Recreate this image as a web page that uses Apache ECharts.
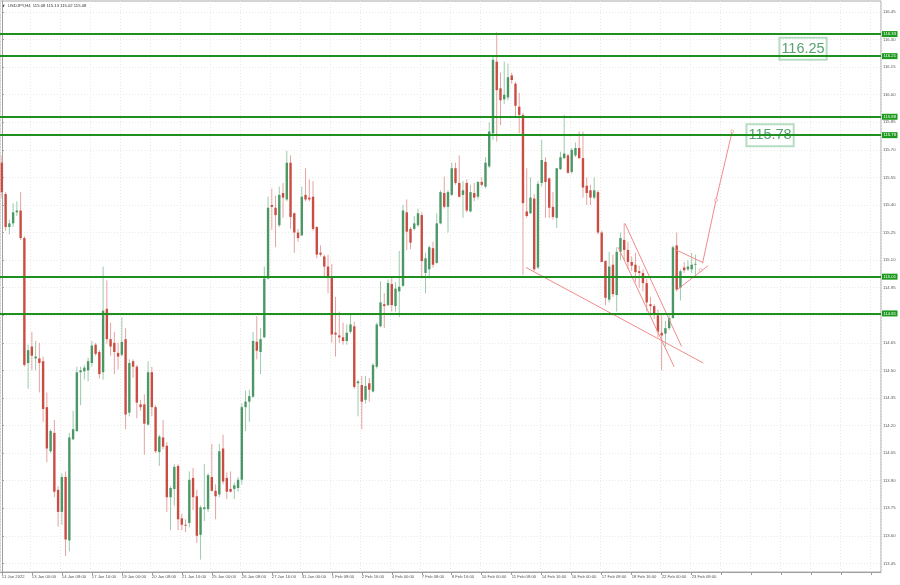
<!DOCTYPE html>
<html><head><meta charset="utf-8">
<script src="https://cdn.jsdelivr.net/npm/echarts@6.0.0/dist/echarts.min.js"></script>
<style>html,body{margin:0;padding:0;background:#fff}#c{width:900px;height:585px}</style>
</head><body><div id="c"></div>
<script>
// ---- data (USDJPY H4, 11 Jan 16:00 → 23 Feb 12:00) ----
const symbolName = 'USDJPY';
const timeframe = 'H4';
const open = [115.63,115.46,115.28,115.30,115.36,115.37,115.22,114.54,114.63,114.565,114.565,114.55,114.30,114.06,114.16,113.85,113.73,113.92,113.575,114.125,114.17,114.49,114.495,114.50,114.54,114.64,114.60,114.49,114.835,114.67,114.65,114.595,114.585,114.67,114.27,114.55,114.52,114.315,114.315,114.205,114.49,114.30,114.055,114.135,114.09,113.81,113.855,113.98,113.695,113.66,113.67,113.915,113.815,113.605,113.745,113.745,113.92,113.845,113.825,114.075,113.915,113.855,113.855,113.86,113.905,114.30,114.33,114.357,114.656,114.60,114.68,115.00,115.40,115.385,115.29,115.465,115.43,115.63,115.355,115.25,115.235,115.455,115.44,115.445,115.28,115.14,115.12,115.065,115.01,114.705,114.69,114.68,114.66,114.71,114.74,114.43,114.42,114.34,114.43,114.385,114.52,114.74,114.86,114.855,114.97,114.85,114.93,114.96,115.36,115.27,115.27,115.29,115.345,115.03,115.05,115.165,115.085,115.30,115.465,115.39,115.455,115.60,115.52,115.455,115.52,115.365,115.465,115.445,115.525,115.50,115.61,115.79,116.18,116.035,115.975,115.985,116.105,116.06,115.935,115.89,115.365,115.355,115.435,115.06,115.52,115.635,115.545,115.39,115.33,115.595,115.655,115.67,115.58,115.67,115.71,115.655,115.505,115.48,115.44,115.47,115.25,115.095,114.885,115.075,114.91,115.145,115.21,115.155,115.09,115.075,115.04,115.03,114.975,114.86,114.85,114.80,114.705,114.70,114.73,114.785,115.18,114.95,115.06,115.05,115.05,115.08];
const high = [115.67,115.47,115.32,115.41,115.42,115.47,115.23,114.64,114.71,114.66,114.65,114.575,114.38,114.18,114.23,113.87,113.94,113.95,114.16,114.28,114.52,114.52,114.53,114.57,114.66,114.65,114.61,115.065,114.99,114.76,114.71,114.65,114.79,114.73,114.56,114.56,114.53,114.34,114.37,114.55,114.52,114.31,114.15,114.23,114.11,113.87,113.99,113.99,113.72,113.69,113.95,113.97,113.85,113.765,113.99,113.94,114.10,113.88,114.10,114.15,113.945,113.95,113.89,113.92,114.32,114.39,114.395,114.71,114.795,114.73,115.065,115.445,115.49,115.45,115.50,115.52,115.695,115.67,115.36,115.27,115.50,115.60,115.54,115.53,115.285,115.18,115.13,115.13,115.08,114.90,114.82,114.76,114.75,114.81,114.765,114.45,114.47,114.47,114.46,114.54,114.76,114.985,114.92,114.995,115.01,114.98,115.15,115.40,115.43,115.28,115.34,115.38,115.36,115.14,115.18,115.20,115.355,115.48,115.555,115.48,115.63,115.63,115.67,115.53,115.54,115.51,115.52,115.53,115.55,115.66,115.85,116.205,116.34,116.12,116.18,116.17,116.12,116.07,116.01,115.90,115.60,115.55,115.46,115.53,115.755,115.66,115.55,115.47,115.60,115.69,115.89,115.68,115.71,115.74,115.80,115.80,115.55,115.51,115.55,115.48,115.26,115.10,115.145,115.13,115.17,115.25,115.30,115.20,115.12,115.14,115.07,115.05,115.00,114.90,114.86,114.83,114.80,114.77,114.80,115.18,115.25,115.05,115.09,115.10,115.14,115.13];
const low = [115.44,115.26,115.24,115.28,115.34,115.21,114.52,114.40,114.50,114.50,114.38,114.22,114.00,114.05,113.81,113.65,113.66,113.49,113.515,114.12,114.165,114.31,114.45,114.44,114.52,114.58,114.455,114.45,114.645,114.58,114.48,114.505,114.575,114.18,114.25,114.46,114.24,114.28,114.04,114.20,114.25,114.05,113.98,114.07,113.73,113.63,113.765,113.63,113.63,113.62,113.645,113.74,113.56,113.47,113.68,113.73,113.84,113.69,113.81,113.88,113.80,113.835,113.80,113.84,113.88,114.17,114.22,114.35,114.56,114.48,114.675,114.995,115.265,115.17,115.28,115.33,115.42,115.27,115.14,115.20,115.23,115.42,115.42,115.26,115.11,115.12,115.01,114.92,114.65,114.575,114.65,114.64,114.64,114.70,114.40,114.25,114.18,114.32,114.33,114.38,114.51,114.735,114.73,114.85,114.82,114.82,114.79,114.955,115.155,115.16,115.26,115.28,115.00,114.92,115.00,115.06,115.08,115.295,115.38,115.25,115.45,115.51,115.44,115.33,115.36,115.36,115.42,115.43,115.50,115.49,115.60,115.755,115.745,115.835,115.95,115.97,116.06,115.88,115.79,115.02,115.33,115.35,115.04,115.05,115.50,115.33,115.33,115.32,115.275,115.59,115.65,115.57,115.57,115.66,115.65,115.44,115.40,115.40,115.43,115.24,115.09,114.855,114.87,114.90,114.82,115.10,115.10,115.05,115.04,114.98,114.95,114.93,114.82,114.80,114.78,114.68,114.50,114.63,114.72,114.78,114.93,114.88,115.03,115.04,115.03,115.02];
const close = [115.47,115.28,115.30,115.36,115.37,115.22,114.53,114.61,114.58,114.575,114.54,114.29,114.075,114.17,113.84,113.73,113.92,113.58,114.135,114.18,114.49,114.50,114.515,114.55,114.635,114.59,114.48,114.825,114.67,114.63,114.60,114.575,114.655,114.26,114.54,114.52,114.325,114.30,114.21,114.49,114.30,114.06,114.14,114.085,113.81,113.86,113.975,113.69,113.66,113.655,113.905,113.81,113.60,113.755,113.755,113.93,113.845,113.815,114.06,113.895,113.84,113.84,113.875,113.905,114.30,114.33,114.36,114.66,114.607,114.67,115.00,115.385,115.39,115.345,115.455,115.44,115.63,115.335,115.25,115.22,115.445,115.43,115.43,115.27,115.13,115.13,115.065,115.005,114.695,114.695,114.68,114.66,114.705,114.75,114.41,114.44,114.33,114.415,114.395,114.53,114.75,114.87,114.85,114.975,114.855,114.945,114.955,115.37,115.255,115.195,115.30,115.355,115.095,115.11,115.17,115.075,115.30,115.47,115.39,115.47,115.60,115.52,115.445,115.48,115.37,115.47,115.44,115.525,115.51,115.63,115.80,116.19,116.025,115.97,116.00,116.095,116.08,115.94,115.89,115.41,115.34,115.44,115.05,115.515,115.645,115.525,115.385,115.335,115.60,115.66,115.68,115.575,115.70,115.71,115.655,115.495,115.465,115.44,115.48,115.25,115.09,114.895,115.065,114.915,115.145,115.22,115.155,115.09,115.07,115.035,115.03,114.975,114.87,114.85,114.81,114.71,114.69,114.73,114.785,115.17,114.94,115.04,115.045,115.065,115.075,115.08];
const xTickLabels = ['11 Jan 2022','13 Jan 00:00','14 Jan 08:00','17 Jan 16:00','19 Jan 00:00','20 Jan 08:00','21 Jan 16:00','25 Jan 00:00','26 Jan 08:00','27 Jan 16:00','31 Jan 00:00','1 Feb 08:00','2 Feb 16:00','4 Feb 00:00','7 Feb 08:00','8 Feb 16:00','10 Feb 00:00','11 Feb 08:00','14 Feb 16:00','16 Feb 00:00','17 Feb 08:00','18 Feb 16:00','22 Feb 00:00','23 Feb 08:00'];
const barsPerXTick = 8;
const yTicks = [113.45,113.60,113.75,113.90,114.05,114.20,114.35,114.50,114.65,114.80,114.95,115.10,115.25,115.40,115.55,115.70,115.85,116.00,116.15,116.30,116.45];
const levels = [116.33,116.21,115.88,115.78,115.01,114.81];
const lastPrice = 115.08;
// trend lines: [barFrom, priceFrom, barTo, priceTo]
const trendLines = [
  [139.8,115.06,187.1,114.54],
  [166.2,115.30,181.3,114.63],
  [164.4,115.17,179.3,114.52],
  [179.4,115.16,187.1,115.086],
  [180.0,114.937,188.4,115.07],
  [186.9,115.083,190.5,115.427],
  [190.5,115.427,194.8,115.80]
];
const projectionPoints = [[186.4,115.045],[190.5,115.427],[194.8,115.80]];
const notes = [[213.7,116.25,'116.25'],[204.9,115.78,'115.78']];
const totalSlots = 235;
const yMin = 113.403, yMax = 116.51;

// ---- chart ----
const n = open.length;
const categories = Array.from({length: totalSlots}, (_, i) => String(i));
const candleData = open.map((o, i) => [i, o, close[i], low[i], high[i]]);
const bodyUp = '#4c9766', bodyDn = '#c94d42', wickUp = '#9ccbab', wickDn = '#e4a3a0';
const trendColor = '#f28a8a';
const levelColor = '#1f8f1f';

const chart = echarts.init(document.getElementById('c'), null, {renderer: 'canvas'});
const lbl = {fontFamily: 'Liberation Sans', fontSize: 4.2, color: '#555'};

chart.setOption({
  animation: false,
  backgroundColor: '#ffffff',
  grid: {left: 0, right: 19, top: 1, bottom: 13, containLabel: false, outerBoundsMode: 'none',
         show: true, borderColor: '#a8a8a8', borderWidth: 1, backgroundColor: 'transparent'},
  xAxis: [{
    type: 'category', data: categories, boundaryGap: true,
    axisLine: {show: true, lineStyle: {color: '#a0a0a0', width: 1}},
    axisTick: {show: true, interval: barsPerXTick - 1, alignWithLabel: true, length: 3, lineStyle: {color: '#999'}},
    axisLabel: Object.assign({show: true, interval: barsPerXTick - 1, align: 'left', margin: 3,
      formatter: (v, idx) => (idx % barsPerXTick === 0 && idx / barsPerXTick < xTickLabels.length) ? xTickLabels[idx / barsPerXTick] : ''}, lbl),
    splitLine: {show: true, interval: barsPerXTick - 1, lineStyle: {color: '#e9e9e9', width: 1, type: [1, 2]}}
  }, {
    type: 'value', min: -0.5, max: totalSlots - 0.5, show: false
  }],
  yAxis: {
    type: 'value', position: 'right', min: yMin, max: yMax, scale: true,
    axisLine: {show: true, lineStyle: {color: '#a0a0a0', width: 1}},
    axisTick: {show: true, length: 2, customValues: yTicks, lineStyle: {color: '#999'}},
    axisLabel: Object.assign({show: true, margin: 2, customValues: yTicks, formatter: v => Number(v).toFixed(2)}, lbl),
    splitLine: {show: true, lineStyle: {color: '#e9e9e9', width: 1, type: [1, 2]}}
  },
  graphic: [
    {type: 'text', left: 2, top: 4, style: {text: '\u25BC', fontSize: 3.5, fill: '#444', fontFamily: 'DejaVu Sans'}},
    {type: 'text', left: 8, top: 4, style: {
      text: symbolName + ',' + timeframe + '  ' + [open[n-1], high[n-1], low[n-1], close[n-1]].map(v => v.toFixed(2)).join(' '),
      fontSize: 4.2, fill: '#333', fontFamily: 'Liberation Sans'}}
  ],
  series: [
    {
      name: 'levels', type: 'line', data: [], xAxisIndex: 0,
      markLine: {
        silent: true, symbol: ['none', 'none'], animation: false,
        lineStyle: {color: levelColor, width: 2, type: 'solid'},
        label: {show: true, position: 'end', distance: 1, formatter: p => Number(p.value).toFixed(2),
                backgroundColor: '#1e9a1e', color: '#fff', fontSize: 4.2, fontFamily: 'Liberation Sans', padding: [1, 1.5]},
        data: levels.map(v => ({yAxis: v})).concat([{yAxis: lastPrice, lineStyle: {opacity: 0},
               label: {backgroundColor: '#5a5a5a', color: '#fff'}}])
      }
    },
    {
      name: 'candles', type: 'custom', xAxisIndex: 0, data: candleData, encode: {x: 0, y: [1, 2, 3, 4]},
      renderItem: (params, api) => {
        const i = api.value(0), o = api.value(1), c = api.value(2), l = api.value(3), h = api.value(4);
        const pO = api.coord([i, o]), pC = api.coord([i, c]), pL = api.coord([i, l]), pH = api.coord([i, h]);
        const x = pO[0];
        const up = c >= o;
        const bw = api.size([1, 0])[0] * 0.64;
        const top = Math.min(pO[1], pC[1]), bot = Math.max(pO[1], pC[1]);
        return {type: 'group', children: [
          {type: 'line', shape: {x1: x, y1: pH[1], x2: x, y2: pL[1]}, style: {stroke: up ? wickUp : wickDn, lineWidth: 1}},
          {type: 'rect', shape: {x: x - bw / 2, y: top, width: bw, height: Math.max(bot - top, 0.9)}, style: {fill: up ? bodyUp : bodyDn}}
        ]};
      }
    },
    {
      name: 'trend', type: 'custom', xAxisIndex: 1, data: trendLines, encode: {x: [0, 2], y: [1, 3]},
      renderItem: (params, api) => {
        const p1 = api.coord([api.value(0), api.value(1)]);
        const p2 = api.coord([api.value(2), api.value(3)]);
        return {type: 'line', shape: {x1: p1[0], y1: p1[1], x2: p2[0], y2: p2[1]}, style: {stroke: trendColor, lineWidth: 1}};
      }
    },
    {
      name: 'points', type: 'scatter', xAxisIndex: 1, data: projectionPoints, symbol: 'circle', symbolSize: 3,
      itemStyle: {color: '#fff', borderColor: trendColor, borderWidth: 0.8}, silent: true
    },
    {
      name: 'notes', type: 'scatter', xAxisIndex: 1, data: notes.map(d => [d[0], d[1], d[2]]), symbolSize: 0, silent: true,
      label: {show: true, position: 'inside', formatter: p => p.data[2], fontFamily: 'Liberation Sans', fontSize: 14.5,
              color: '#2b8a4e', borderColor: '#a3d4b1', borderWidth: 1, padding: [4, 2, 3, 2], backgroundColor: 'rgba(255,255,255,0)'}
    }
  ]
});
</script></body></html>
